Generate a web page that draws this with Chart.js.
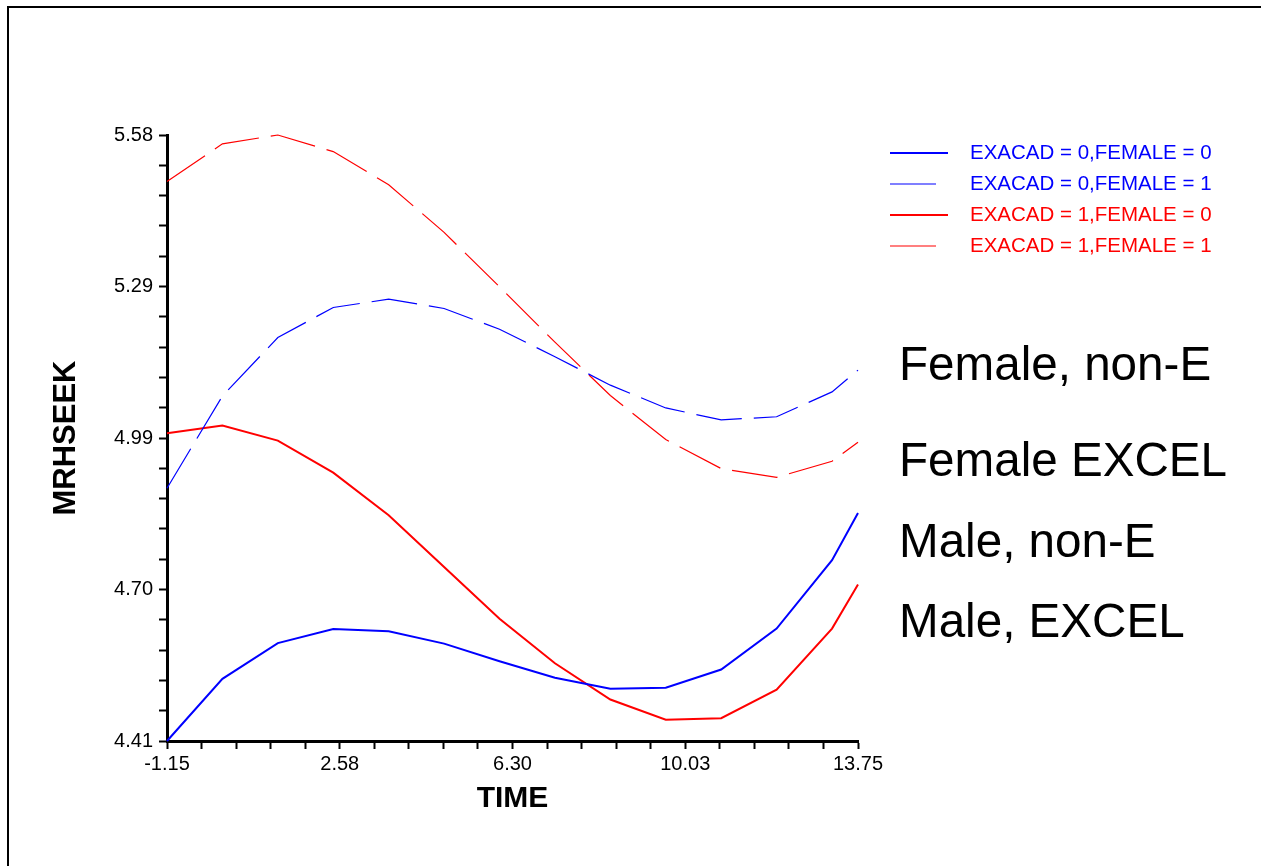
<!DOCTYPE html>
<html>
<head>
<meta charset="utf-8">
<script src="https://cdn.jsdelivr.net/npm/chart.js@4.4.1/dist/chart.umd.min.js"></script>
<style>
  html, body { margin: 0; padding: 0; background: #ffffff; overflow: hidden; }
  #frame {
    position: absolute; left: 7px; top: 6px;
    width: 1400px; height: 1000px;
    border-left: 2px solid #000; border-top: 2px solid #000;
  }
  #chart { position: absolute; left: 0; top: 0; }
</style>
</head>
<body>
<div id="frame"></div>
<canvas id="chart" width="1261" height="866"></canvas>
<script>
// MRHSEEK over TIME, by EXACAD / FEMALE group

const time = [-1.15, 0.045, 1.24, 2.435, 3.63, 4.825, 6.02, 7.215, 8.41, 9.605, 10.80, 11.995, 13.19, 13.75];

const exacad0Female0 = [4.410, 4.530, 4.599, 4.626, 4.622, 4.598, 4.564, 4.532, 4.511, 4.513, 4.548, 4.627, 4.759, 4.850];
const exacad0Female1 = [4.898, 5.076, 5.189, 5.247, 5.263, 5.245, 5.205, 5.152, 5.097, 5.053, 5.030, 5.036, 5.084, 5.126];
const exacad1Female0 = [5.004, 5.019, 4.990, 4.928, 4.846, 4.746, 4.646, 4.560, 4.490, 4.451, 4.454, 4.509, 4.627, 4.712];
const exacad1Female1 = [5.490, 5.563, 5.580, 5.548, 5.484, 5.392, 5.287, 5.180, 5.077, 4.992, 4.936, 4.919, 4.950, 4.987];

const seriesLabels = [
    'EXACAD = 0,FEMALE = 0',
    'EXACAD = 0,FEMALE = 1',
    'EXACAD = 1,FEMALE = 0',
    'EXACAD = 1,FEMALE = 1'
];

// axis ranges and tick labels (4 major intervals, 5 minor steps each)
const xMin = -1.15, xMax = 13.75;
const yMin = 4.41, yMax = 5.58;
const xTickLabels = ['-1.15', '2.58', '6.30', '10.03', '13.75'];
const yTickLabels = ['4.41', '4.70', '4.99', '5.29', '5.58'];

const sideNotes = ['Female, non-E', 'Female EXCEL', 'Male, non-E', 'Male, EXCEL'];

const BLUE = '#0000ff';
const RED = '#ff0000';
const FONT = "'Liberation Sans', Arial, sans-serif";

function toPoints(values) {
    return values.map((v, i) => ({ x: time[i], y: v }));
}

function minorTicks(min, max) {
    const step = (max - min) / 20;
    const out = [];
    for (let i = 0; i <= 20; i++) out.push({ value: min + i * step });
    return out;
}

// legend drawn at the right side, built from the datasets
const sideLegend = {
    id: 'sideLegend',
    afterDraw(chart) {
        const ctx = chart.ctx;
        ctx.save();
        ctx.font = '20.5px ' + FONT;
        ctx.textBaseline = 'middle';
        ctx.textAlign = 'left';
        chart.data.datasets.forEach((ds, i) => {
            const y = 153 + i * 31;
            ctx.strokeStyle = ds.borderColor;
            ctx.lineWidth = ds.borderWidth;
            ctx.setLineDash(ds.borderDash || []);
            ctx.beginPath();
            ctx.moveTo(890, y);
            ctx.lineTo(948, y);
            ctx.stroke();
            ctx.fillStyle = ds.borderColor;
            ctx.fillText(ds.label, 970, y);
        });
        ctx.restore();
    }
};

const notesPlugin = {
    id: 'notes',
    afterDraw(chart) {
        const ctx = chart.ctx;
        const baselines = [380, 476, 557, 637];
        ctx.save();
        ctx.font = '47.6px ' + FONT;
        ctx.fillStyle = '#000';
        ctx.textAlign = 'left';
        ctx.textBaseline = 'alphabetic';
        sideNotes.forEach((t, i) => ctx.fillText(t, 899, baselines[i]));
        ctx.restore();
    }
};

const axisCommon = {
    type: 'linear',
    grid: {
        drawOnChartArea: false,
        drawTicks: true,
        tickLength: 8,
        tickWidth: 2,
        tickColor: '#000'
    },
    border: { display: true, color: '#000', width: 3 }
};

new Chart(document.getElementById('chart'), {
    type: 'line',
    data: {
        datasets: [
            {
                label: seriesLabels[0], data: toPoints(exacad0Female0),
                borderColor: BLUE, borderWidth: 2
            },
            {
                label: seriesLabels[1], data: toPoints(exacad0Female1),
                borderColor: BLUE, borderWidth: 1.2, borderDash: [46, 12]
            },
            {
                label: seriesLabels[2], data: toPoints(exacad1Female0),
                borderColor: RED, borderWidth: 2
            },
            {
                label: seriesLabels[3], data: toPoints(exacad1Female1),
                borderColor: RED, borderWidth: 1.2, borderDash: [46, 12]
            }
        ]
    },
    options: {
        responsive: false,
        devicePixelRatio: 1,
        animation: false,
        layout: { padding: { top: 135, right: 403, bottom: 0, left: 0 } },
        elements: {
            point: { radius: 0 },
            line: { tension: 0, fill: false }
        },
        datasets: { line: { clip: 4 } },
        plugins: {
            legend: { display: false },
            tooltip: { enabled: false }
        },
        scales: {
            x: {
                ...axisCommon,
                position: 'bottom',
                min: xMin,
                max: xMax,
                afterBuildTicks: (scale) => { scale.ticks = minorTicks(xMin, xMax); },
                afterFit: (scale) => { scale.height = 125; },
                ticks: {
                    autoSkip: false,
                    maxRotation: 0,
                    padding: 3,
                    color: '#000',
                    font: { family: FONT, size: 20 },
                    callback: (v, i) => (i % 5 === 0 ? xTickLabels[i / 5] : '')
                },
                title: {
                    display: true,
                    text: 'TIME',
                    color: '#000',
                    font: { family: FONT, size: 30, weight: 'bold', lineHeight: 1 },
                    padding: { top: 0, bottom: 52 }
                }
            },
            y: {
                ...axisCommon,
                position: 'left',
                min: yMin,
                max: yMax,
                afterBuildTicks: (scale) => { scale.ticks = minorTicks(yMin, yMax); },
                afterFit: (scale) => { scale.width = 167; },
                ticks: {
                    autoSkip: false,
                    padding: 6,
                    color: '#000',
                    font: { family: FONT, size: 20 },
                    callback: (v, i) => (i % 5 === 0 ? yTickLabels[i / 5] : '')
                },
                title: {
                    display: true,
                    text: 'MRHSEEK',
                    color: '#000',
                    font: { family: FONT, size: 31, weight: 'bold', lineHeight: 1 },
                    padding: { top: 51, bottom: 0 }
                }
            }
        }
    },
    plugins: [sideLegend, notesPlugin]
});
</script>
</body>
</html>
